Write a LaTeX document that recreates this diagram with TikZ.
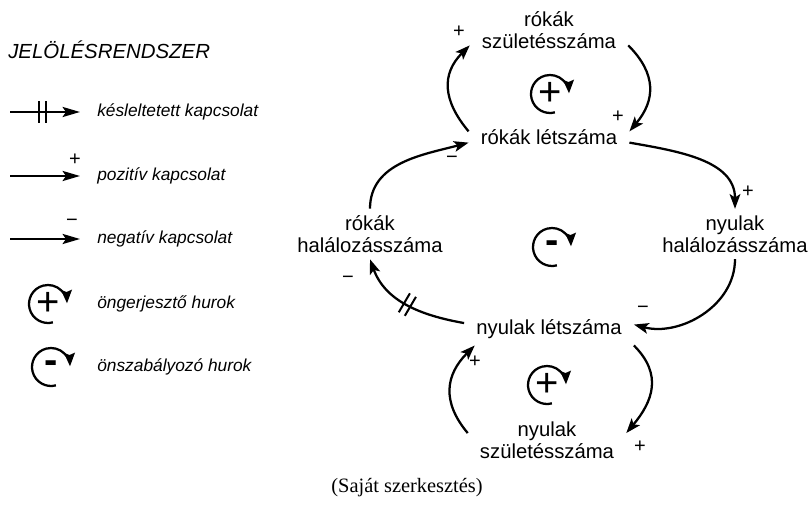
\documentclass[tikz,border=0pt]{standalone}
\usepackage{fontspec}
\setmainfont{Liberation Sans}
\newfontfamily\captionfont{Liberation Serif}
\usetikzlibrary{arrows.meta,decorations.markings}

\tikzset{
  var/.style={font=\fontsize{15.2}{16.2}\selectfont, align=center, inner xsep=9pt, inner ysep=5pt},
  link/.style={line width=1.7pt, -{Stealth[length=11pt,width=8pt,inset=2.5pt]}},
  legendlink/.style={line width=1.9pt, -{Stealth[length=13pt,width=7.5pt,inset=2.5pt]}},
  sign/.style={font=\fontsize{15}{15}\selectfont, inner sep=0pt},
  legendtext/.style={font=\fontsize{13}{13}\selectfont\itshape, anchor=west, inner sep=0pt, text height=1.5ex, text depth=.25ex},
  delay/.style={postaction={decorate, decoration={markings,
      mark=at position #1 with {\draw[line width=1.5pt,-] (-3.5,-11) -- (-3.5,11) (3.5,-11) -- (3.5,11);}}}},
  pics/loopsign/.style={code={
      \draw[line width=1.7pt, -{Stealth[length=10pt,width=8pt,inset=1.5pt]}] (-75:19) arc[start angle=-75, end angle=-358, radius=19];
      \node[font=\fontsize{30}{30}\selectfont, inner sep=0pt] at (0,0) {#1};
  }},
}

\begin{document}
\begin{tikzpicture}[x=0.75pt, y=0.75pt]
    \useasboundingbox (0,0) rectangle (810,-505);

    % legend
    \node[anchor=west, font=\fontsize{15.3}{15.3}\selectfont\itshape, inner sep=0pt] (title) at (8,-50) {JELÖLÉSRENDSZER};
    \coordinate (d0) at (10,-112);
    \coordinate (d1) at (80,-112);
    \draw[legendlink, delay=0.46] (d0) -- (d1);
    \node[legendtext] (tdelay) at (97,-112) {késleltetett kapcsolat};
    \coordinate (p0) at (10,-176);
    \coordinate (p1) at (80,-176);
    \draw[legendlink] (p0) -- (p1);
    \node[sign] (lplus) at (75,-160) {+};
    \node[legendtext] (tpos) at (97,-176) {pozitív kapcsolat};
    \coordinate (m0) at (10,-239);
    \coordinate (m1) at (80,-239);
    \draw[legendlink] (m0) -- (m1);
    \node[sign] (lminus) at (72,-223) {−};
    \node[legendtext] (tneg) at (97,-239) {negatív kapcsolat};
    \pic at (48,-304) {loopsign=+};
    \node[legendtext] (tre) at (97,-304) {öngerjesztő hurok};
    \pic at (51,-367) {loopsign={\bfseries\raisebox{-3pt}{-}}};
    \node[legendtext] (tbal) at (97,-367) {önszabályozó hurok};

    % variables
    \node[var] (rs) at (549,-30) {rókák\\születésszáma};
    \node[var] (rl) at (549,-137) {rókák létszáma};
    \node[var] (rh) at (370,-234) {rókák\\halálozásszáma};
    \node[var] (nh) at (735,-234) {nyulak\\halálozásszáma};
    \node[var] (nl) at (549,-329) {nyulak létszáma};
    \node[var] (ns) at (547,-440) {nyulak\\születésszáma};

    % fox births loop
    \draw[link] (rl.176) to[out=130,in=-135,looseness=1.2] (rs.191);
    \draw[link] (rs.-11) to[out=-45,in=50,looseness=1.2] (rl.4);
    \node[sign] (s1) at (459,-32) {+};
    \node[sign] (s2) at (618,-117) {+};
    \pic at (550,-94) {loopsign=+};

    % predator loop
    \draw[link] (rl.-4) to[out=-10,in=90] (nh.north);
    \draw[link] (nh.south) to[out=-90,in=-15] (nl.3);
    \draw[link, delay=0.5] (nl.176) to[out=170,in=-70] (rh.south);
    \draw[link] (rh.north) to[out=90,in=195] (rl.184);
    \node[sign] (s3) at (748,-192) {+};
    \node[sign] (s4) at (643,-310) {−};
    \node[sign] (s5) at (348,-280) {−};
    \node[sign] (s6) at (452,-160) {−};
    \pic at (552,-247) {loopsign={\bfseries\raisebox{-3pt}{-}}};

    % rabbit births loop
    \draw[link] (ns.175) to[out=130,in=-135,looseness=1.2] ([xshift=8]nl.south west);
    \draw[link] (nl.south east) to[out=-45,in=50,looseness=1.2] (ns.5);
    \node[sign] (s7) at (475,-362) {+};
    \node[sign] (s8) at (640,-447) {+};
    \pic at (547,-385) {loopsign=+};

    \node[font=\captionfont\fontsize{15.3}{15.3}\selectfont] (src) at (407,-488) {(Saját szerkesztés)};
\end{tikzpicture}
\end{document}
